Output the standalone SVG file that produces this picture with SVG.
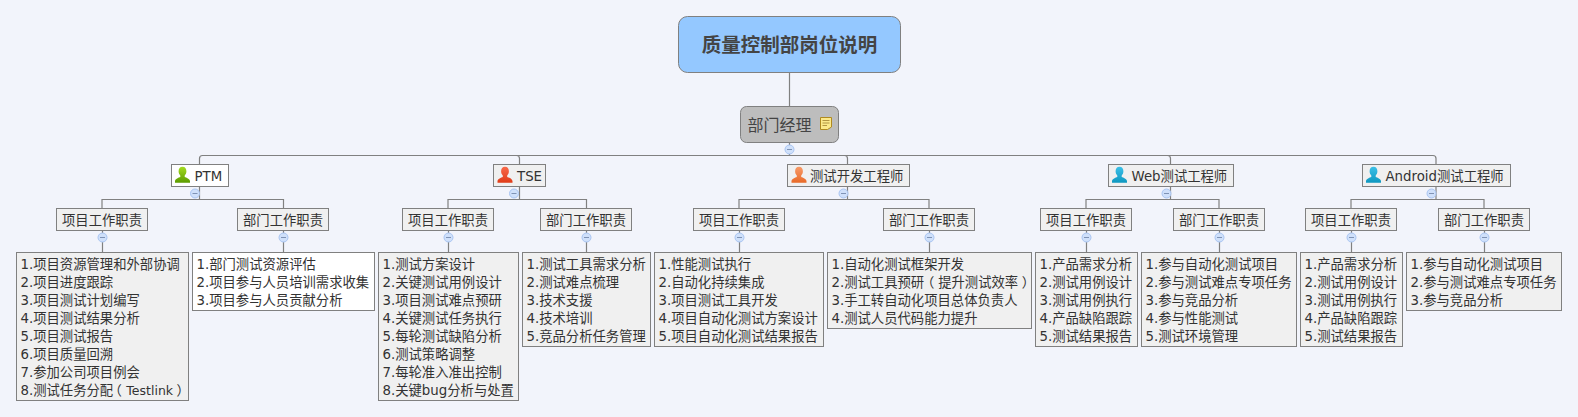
<svg xmlns="http://www.w3.org/2000/svg" width="1578" height="417" viewBox="0 0 1578 417">
<style>
text{font-family:"DejaVu Sans","Noto Sans CJK SC",sans-serif;fill:#333;font-size:13.33px}
.c{text-anchor:middle}
.b{fill:#f0f0f0;stroke:#808080;stroke-width:1}
.w{fill:#fff;stroke:#808080;stroke-width:1}
.ln{fill:none;stroke:#808080;stroke-width:1.2}
.tog{fill:#cfe0fa;stroke:#a9c5f2;stroke-width:1}
.m{stroke:#7f93b5;stroke-width:1;fill:none}
.t{font-size:12.5px}
.h{font-feature-settings:"palt"}
</style>
<defs>
<g id="toggle"><circle class="tog" r="4.5"/><path class="m" d="M-2.500 0H2.500"/></g>
<linearGradient id="gG" x1="0" y1="0" x2="0" y2="1"><stop offset="0" stop-color="#a4dc20"/><stop offset="1" stop-color="#5c9c00"/></linearGradient>
<linearGradient id="gR" x1="0" y1="0" x2="0" y2="1"><stop offset="0" stop-color="#f8694a"/><stop offset="1" stop-color="#e03c18"/></linearGradient>
<linearGradient id="gO" x1="0" y1="0" x2="0" y2="1"><stop offset="0" stop-color="#f89a68"/><stop offset="1" stop-color="#e86a28"/></linearGradient>
<linearGradient id="gB" x1="0" y1="0" x2="0" y2="1"><stop offset="0" stop-color="#3cc0e8"/><stop offset="1" stop-color="#0f98c0"/></linearGradient>
<path id="person" d="M7.500 0C4.900 0 3.600 2.100 3.600 4.600C3.600 6.400 4.300 7.800 5.300 8.700L5.300 10.200C3.600 11 .3 11.700 0 14.400L0 16H15V14.400C14.700 11.700 11.400 11 9.700 10.200L9.700 8.700C10.700 7.800 11.400 6.400 11.400 4.600C11.400 2.100 10.100 0 7.500 0Z"/>
</defs>
<rect width="1578" height="417" fill="#f2f4fb"/>
<g id="connectors">
<path class="ln" d="M789.500 72.500V106.500M789.500 142.500V155.500"/>
<path class="ln" d="M199.500 164.500V158.500Q199.500 155.500 202.500 155.500H1433Q1436 155.500 1436 158.500V164.500"/>
<path class="ln" d="M519.500 164.500V158.500Q519.500 155.500 516.500 155.500M847.500 164.500V158.500Q847.500 155.500 844.500 155.500M1170.500 164.500V158.500Q1170.500 155.500 1167.500 155.500"/>
<path class="ln" d="M199.500 186.500V199.500M102 208.500V199.500H283.500V208.500M102.500 230.500V252.500M283.500 230.500V252.500"/>
<path class="ln" d="M519.500 186.500V199.500M448 208.500V199.500H586.500V208.500M448.500 230.500V252.500M586.500 230.500V252.500"/>
<path class="ln" d="M847.500 186.500V199.500M739 208.500V199.500H929V208.500M739.500 230.500V252.500M929.500 230.500V252.500"/>
<path class="ln" d="M1170.500 186.500V199.500M1086 208.500V199.500H1219V208.500M1086.500 230.500V252.500M1219.500 230.500V252.500"/>
<path class="ln" d="M1436 186.500V199.500M1351 208.500V199.500H1484V208.500M1351.500 230.500V252.500M1484.500 230.500V252.500"/>
<use href="#toggle" x="789.500" y="149.500"/>
<use href="#toggle" x="195" y="193.500"/><use href="#toggle" x="102.500" y="237.500"/><use href="#toggle" x="283.500" y="237.500"/>
<use href="#toggle" x="514" y="193.500"/><use href="#toggle" x="448.500" y="237.500"/><use href="#toggle" x="586.500" y="237.500"/>
<use href="#toggle" x="843.500" y="193.500"/><use href="#toggle" x="739.500" y="237.500"/><use href="#toggle" x="929.500" y="237.500"/>
<use href="#toggle" x="1166.500" y="193.500"/><use href="#toggle" x="1086.500" y="237.500"/><use href="#toggle" x="1219.500" y="237.500"/>
<use href="#toggle" x="1431.500" y="193.500"/><use href="#toggle" x="1351.500" y="237.500"/><use href="#toggle" x="1484.500" y="237.500"/>
</g>
<g id="root"><rect x="678.500" y="16.500" width="222" height="56" rx="9" fill="#94c8ff" stroke="#808080"/><text class="c" x="789.500" y="51.500" style="font-size:19.500px;font-weight:700;fill:#444">质量控制部岗位说明</text></g>
<g id="mgr"><rect x="740.500" y="106.500" width="98" height="36" rx="6" fill="#bdbdbd" stroke="#808080"/><text x="747.500" y="131" style="font-size:16px;fill:#444">部门经理</text>
<path d="M820.500 117.500H831.500V127L827.500 129.500H820.500Z" fill="#fce98a" stroke="#b08a20"/><path d="M822.500 120.500H829.500M822.500 123H829.500M822.500 125.500H827" stroke="#a08030" stroke-width=".8" fill="none"/></g>

<g id="ptm"><rect class="w" x="171.500" y="164.500" width="57" height="22"/><use href="#person" x="175" y="166.700" fill="url(#gG)"/><text x="194.500" y="180.500">PTM</text></g>
<g id="ptm-p"><rect class="b" x="56.500" y="208.500" width="91" height="22"/><text class="c" x="102" y="224.500">项目工作职责</text></g>
<g id="ptm-d"><rect class="b" x="237.500" y="208.500" width="91" height="22"/><text class="c" x="283" y="224.500">部门工作职责</text></g>
<g id="ptm-pl"><rect class="b" x="16.500" y="252.500" width="172" height="148"/>
<text x="20.500" y="268.500">1.项目资源管理和外部协调</text><text x="20.500" y="286.500">2.项目进度跟踪</text><text x="20.500" y="304.500">3.项目测试计划编写</text><text x="20.500" y="322.500">4.项目测试结果分析</text><text x="20.500" y="340.500">5.项目测试报告</text><text x="20.500" y="358.500">6.项目质量回溯</text><text x="20.500" y="376.500">7.参加公司项目例会</text><text x="20.500" y="394.500">8.测试任务分配<tspan class="h" dx="1.500">（</tspan><tspan class="t" dx="5">Testlink</tspan><tspan class="h" dx="4">）</tspan></text></g>
<g id="ptm-dl"><rect class="w" x="192.500" y="252.500" width="182" height="58"/>
<text x="196.500" y="268.500">1.部门测试资源评估</text><text x="196.500" y="286.500">2.项目参与人员培训需求收集</text><text x="196.500" y="304.500">3.项目参与人员贡献分析</text></g>

<g id="tse"><rect class="b" x="493.500" y="164.500" width="52" height="22"/><use href="#person" x="497.500" y="166.700" fill="url(#gR)"/><text x="517" y="180.500">TSE</text></g>
<g id="tse-p"><rect class="b" x="402.500" y="208.500" width="91" height="22"/><text class="c" x="448" y="224.500">项目工作职责</text></g>
<g id="tse-d"><rect class="b" x="540.500" y="208.500" width="91" height="22"/><text class="c" x="586" y="224.500">部门工作职责</text></g>
<g id="tse-pl"><rect class="b" x="378.500" y="252.500" width="140" height="148"/>
<text x="382.500" y="268.500">1.测试方案设计</text><text x="382.500" y="286.500">2.关键测试用例设计</text><text x="382.500" y="304.500">3.项目测试难点预研</text><text x="382.500" y="322.500">4.关键测试任务执行</text><text x="382.500" y="340.500">5.每轮测试缺陷分析</text><text x="382.500" y="358.500">6.测试策略调整</text><text x="382.500" y="376.500">7.每轮准入准出控制</text><text x="382.500" y="394.500">8.关键bug分析与处置</text></g>
<g id="tse-dl"><rect class="b" x="522.500" y="252.500" width="128" height="94"/>
<text x="526.500" y="268.500">1.测试工具需求分析</text><text x="526.500" y="286.500">2.测试难点梳理</text><text x="526.500" y="304.500">3.技术支援</text><text x="526.500" y="322.500">4.技术培训</text><text x="526.500" y="340.500">5.竞品分析任务管理</text></g>

<g id="dev"><rect class="b" x="787.500" y="164.500" width="122" height="22"/><use href="#person" x="791.500" y="166.700" fill="url(#gO)"/><text x="810" y="180.500">测试开发工程师</text></g>
<g id="dev-p"><rect class="b" x="693.500" y="208.500" width="91" height="22"/><text class="c" x="739" y="224.500">项目工作职责</text></g>
<g id="dev-d"><rect class="b" x="883.500" y="208.500" width="91" height="22"/><text class="c" x="929" y="224.500">部门工作职责</text></g>
<g id="dev-pl"><rect class="b" x="654.500" y="252.500" width="169" height="94"/>
<text x="658.500" y="268.500">1.性能测试执行</text><text x="658.500" y="286.500">2.自动化持续集成</text><text x="658.500" y="304.500">3.项目测试工具开发</text><text x="658.500" y="322.500">4.项目自动化测试方案设计</text><text x="658.500" y="340.500">5.项目自动化测试结果报告</text></g>
<g id="dev-dl"><rect class="b" x="827.500" y="252.500" width="204" height="76"/>
<text x="831.500" y="268.500">1.自动化测试框架开发</text><text x="831.500" y="286.500">2.测试工具预研<tspan class="h" dx="3">（</tspan><tspan dx="4.300">提升测试效率</tspan><tspan class="h" dx="4">）</tspan></text><text x="831.500" y="304.500">3.手工转自动化项目总体负责人</text><text x="831.500" y="322.500">4.测试人员代码能力提升</text></g>

<g id="web"><rect class="b" x="1108.500" y="164.500" width="125" height="22"/><use href="#person" x="1112" y="166.700" fill="url(#gB)"/><text x="1131.500" y="180.500">Web测试工程师</text></g>
<g id="web-p"><rect class="b" x="1040.500" y="208.500" width="91" height="22"/><text class="c" x="1086" y="224.500">项目工作职责</text></g>
<g id="web-d"><rect class="b" x="1173.500" y="208.500" width="91" height="22"/><text class="c" x="1219" y="224.500">部门工作职责</text></g>
<g id="web-pl"><rect class="b" x="1035.500" y="252.500" width="102" height="94"/>
<text x="1039.500" y="268.500">1.产品需求分析</text><text x="1039.500" y="286.500">2.测试用例设计</text><text x="1039.500" y="304.500">3.测试用例执行</text><text x="1039.500" y="322.500">4.产品缺陷跟踪</text><text x="1039.500" y="340.500">5.测试结果报告</text></g>
<g id="web-dl"><rect class="b" x="1141.500" y="252.500" width="155" height="94"/>
<text x="1145.500" y="268.500">1.参与自动化测试项目</text><text x="1145.500" y="286.500">2.参与测试难点专项任务</text><text x="1145.500" y="304.500">3.参与竞品分析</text><text x="1145.500" y="322.500">4.参与性能测试</text><text x="1145.500" y="340.500">5.测试环境管理</text></g>

<g id="android"><rect class="b" x="1362.500" y="164.500" width="148" height="22"/><use href="#person" x="1366" y="166.700" fill="url(#gB)"/><text x="1385.500" y="180.500">Android测试工程师</text></g>
<g id="android-p"><rect class="b" x="1305.500" y="208.500" width="91" height="22"/><text class="c" x="1351" y="224.500">项目工作职责</text></g>
<g id="android-d"><rect class="b" x="1438.500" y="208.500" width="91" height="22"/><text class="c" x="1484" y="224.500">部门工作职责</text></g>
<g id="android-pl"><rect class="b" x="1300.500" y="252.500" width="102" height="94"/>
<text x="1304.500" y="268.500">1.产品需求分析</text><text x="1304.500" y="286.500">2.测试用例设计</text><text x="1304.500" y="304.500">3.测试用例执行</text><text x="1304.500" y="322.500">4.产品缺陷跟踪</text><text x="1304.500" y="340.500">5.测试结果报告</text></g>
<g id="android-dl"><rect class="b" x="1406.500" y="252.500" width="155" height="58"/>
<text x="1410.500" y="268.500">1.参与自动化测试项目</text><text x="1410.500" y="286.500">2.参与测试难点专项任务</text><text x="1410.500" y="304.500">3.参与竞品分析</text></g>
</svg>
